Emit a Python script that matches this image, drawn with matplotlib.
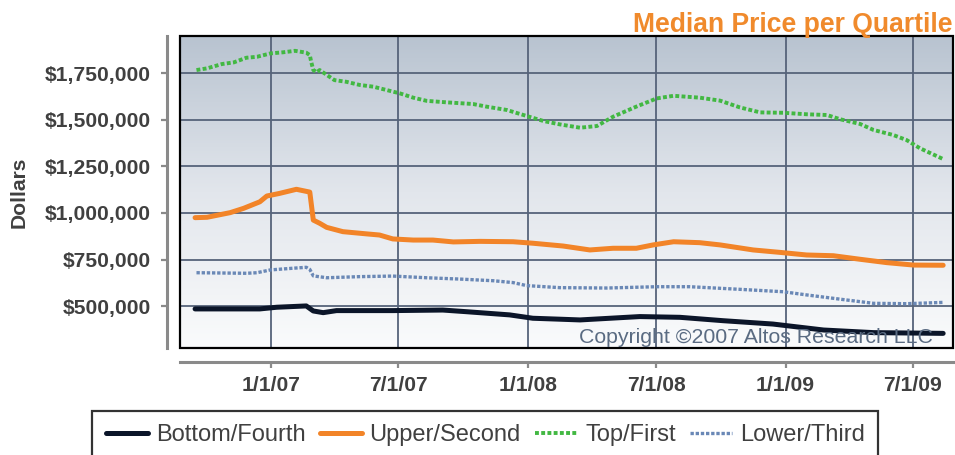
import numpy as np
import pandas as pd
import matplotlib
matplotlib.use("Agg")
import matplotlib.pyplot as plt
from matplotlib.colors import LinearSegmentedColormap
from matplotlib.patches import Rectangle

plt.rcParams['font.family'] = ['Liberation Sans', 'DejaVu Sans']

# ---- data (values in thousands of dollars) ----
top_dates = ["2006-09-17", "2006-10-02", "2006-10-23", "2006-11-09", "2006-11-27", "2006-12-12",
             "2006-12-31", "2007-01-18", "2007-02-04", "2007-02-20", "2007-02-25", "2007-02-27",
             "2007-03-02", "2007-03-07", "2007-03-11", "2007-03-25", "2007-04-01", "2007-04-18",
             "2007-05-07", "2007-05-26", "2007-06-14", "2007-07-03", "2007-07-22", "2007-08-10",
             "2007-09-07", "2007-10-15", "2007-11-03", "2007-12-02", "2007-12-30", "2008-01-23",
             "2008-02-15", "2008-03-15", "2008-04-08", "2008-05-01", "2008-06-03", "2008-07-02",
             "2008-07-26", "2008-09-01", "2008-09-30", "2008-10-28", "2008-11-26", "2008-12-29",
             "2009-01-31", "2009-03-01", "2009-03-20", "2009-04-17", "2009-05-06", "2009-06-03",
             "2009-06-22", "2009-07-11", "2009-08-13"]
top_values = [1766, 1775, 1798, 1807, 1832, 1837, 1855, 1861, 1869, 1859, 1846, 1810,
              1766, 1754, 1766, 1730, 1712, 1703, 1686, 1677, 1659, 1641, 1618, 1601,
              1593, 1584, 1570, 1552, 1520, 1493, 1475, 1457, 1466, 1516, 1570, 1614,
              1628, 1618, 1602, 1566, 1539, 1537, 1529, 1525, 1502, 1477, 1445, 1418,
              1391, 1347, 1289]

upper_dates = ["2006-09-15", "2006-10-02", "2006-11-04", "2006-11-23", "2006-12-16", "2006-12-26",
               "2007-01-13", "2007-02-06", "2007-02-25", "2007-03-02", "2007-03-11", "2007-03-21",
               "2007-04-13", "2007-05-17", "2007-06-04", "2007-06-23", "2007-07-22", "2007-08-19",
               "2007-09-17", "2007-10-25", "2007-12-11", "2008-01-08", "2008-02-20", "2008-03-29",
               "2008-05-01", "2008-06-03", "2008-06-27", "2008-07-26", "2008-09-01", "2008-09-30",
               "2008-11-16", "2008-12-24", "2009-01-31", "2009-03-10", "2009-04-17", "2009-05-25",
               "2009-07-02", "2009-08-13"]
upper_values = [975, 977, 1002, 1025, 1060, 1091, 1105, 1127, 1112, 962, 945, 923,
                900, 888, 882, 861, 855, 855, 845, 848, 846, 838, 823, 802,
                811, 811, 829, 846, 841, 829, 802, 789, 775, 771, 752, 734,
                721, 720]

lower_dates = ["2006-09-17", "2006-11-27", "2006-12-12", "2006-12-31", "2007-02-01", "2007-02-20",
               "2007-02-25", "2007-03-02", "2007-03-21", "2007-05-07", "2007-06-23", "2007-08-10",
               "2007-09-26", "2007-11-13", "2007-12-11", "2007-12-30", "2008-02-15", "2008-04-22",
               "2008-07-02", "2008-08-18", "2008-10-28", "2008-12-29", "2009-01-31", "2009-03-20",
               "2009-05-06", "2009-06-22", "2009-08-13"]
lower_values = [680, 677, 680, 695, 704, 709, 698, 663, 653, 659, 662, 653,
                646, 637, 627, 611, 600, 598, 605, 605, 591, 578, 561, 538,
                516, 514, 521]

bottom_dates = ["2006-09-15", "2006-12-16", "2007-01-09", "2007-02-20", "2007-03-02", "2007-03-16",
                "2007-04-04", "2007-06-23", "2007-09-02", "2007-10-06", "2007-12-06", "2008-01-08",
                "2008-02-15", "2008-03-15", "2008-06-08", "2008-08-04", "2008-10-04", "2008-12-14",
                "2009-02-24", "2009-05-06", "2009-08-13"]
bottom_values = [486, 486, 495, 502, 475, 466, 477, 477, 480, 471, 454, 436,
                 431, 427, 445, 441, 423, 405, 373, 359, 355]

series_names = ["Bottom/Fourth", "Upper/Second", "Top/First", "Lower/Third"]
y_ticks = [500000, 750000, 1000000, 1250000, 1500000, 1750000]
y_tick_labels = ["$500,000", "$750,000", "$1,000,000", "$1,250,000", "$1,500,000", "$1,750,000"]
x_ticks = ["2007-01-01", "2007-07-01", "2008-01-01", "2008-07-01", "2009-01-01", "2009-07-01"]
x_tick_labels = ["1/1/07", "7/1/07", "1/1/08", "7/1/08", "1/1/09", "7/1/09"]

# ---- figure ----
W, H = 955, 455
fig = plt.figure(figsize=(W / 100, H / 100), dpi=100)
ax = fig.add_axes([180.3 / W, 1 - 348.3 / H, (953 - 180.3) / W, (348.3 - 35.7) / H])

# gradient background
cmap = LinearSegmentedColormap.from_list("bg", ["#fafbfc", "#e2e6ec", "#b8c3d0"])
grad = np.linspace(0, 1, 256)[:, None]
ax.imshow(grad, extent=[0, 1, 0, 1], transform=ax.transAxes, aspect='auto',
          cmap=cmap, origin='lower', zorder=0, interpolation='bicubic')

def d(lst):
    return pd.to_datetime(lst)

ax.plot(d(bottom_dates), np.array(bottom_values) * 1000, color="#0b1529", lw=3.6,
        solid_capstyle='round', solid_joinstyle='round', label=series_names[0], zorder=5)
ax.plot(d(upper_dates), np.array(upper_values) * 1000, color="#f28428", lw=3.6,
        solid_capstyle='round', solid_joinstyle='round', label=series_names[1], zorder=5)
ax.plot(d(top_dates), np.array(top_values) * 1000, color="#42b842", lw=2.8,
        dashes=(1.0, 0.6), label=series_names[2], zorder=5)
ax.plot(d(lower_dates), np.array(lower_values) * 1000, color="#6a88b6", lw=2.4,
        dashes=(1.0, 0.55), label=series_names[3], zorder=5)

ax.set_xlim(pd.Timestamp("2006-08-25"), pd.Timestamp("2009-08-27"))
ax.set_ylim(275000, 1950000)

ax.set_yticks(y_ticks)
ax.set_yticklabels(y_tick_labels)
ax.set_xticks(d(x_ticks))
ax.set_xticklabels(x_tick_labels)

ax.grid(True, color="#56637a", lw=1.3, zorder=1)
ax.set_axisbelow(True)

for side in ["top", "right"]:
    ax.spines[side].set_visible(False)
ax.spines["left"].set_position(("outward", 9.5))
ax.spines["bottom"].set_position(("outward", 9.8))
for side in ["left", "bottom"]:
    ax.spines[side].set_color("#8a8a8a")
    ax.spines[side].set_linewidth(2.2)

ax.tick_params(axis='both', colors="#8a8a8a", width=1.6, length=4.5, direction='out')
ax.tick_params(axis='y', pad=7, labelcolor="#404040", labelsize=15.2)
ax.tick_params(axis='x', pad=5.5, labelcolor="#404040", labelsize=15.2)
for lab in ax.get_xticklabels() + ax.get_yticklabels():
    lab.set_fontweight('bold')

# black frame around plot area
ax.add_patch(Rectangle((0, 0), 1, 1, transform=ax.transAxes, fill=False,
                       edgecolor="black", lw=1.6, zorder=6, clip_on=False))

# texts
fig.text(952 / W, 1 - 32.3 / H, "Median Price per Quartile", ha='right', va='baseline',
         color="#f08a2c", fontsize=19.1, fontweight='bold')
fig.text(19 / W, 1 - 192 / H, "Dollars", rotation=90, ha='center', va='center',
         color="#404040", fontsize=15.2, fontweight='bold')
ax.text(1 - (953 - 933) / (953 - 180.3), (348.3 - 342.7) / (348.3 - 35.7),
        "Copyright \u00a92007 Altos Research LLC", transform=ax.transAxes,
        ha='right', va='baseline', color="#5a6b82", fontsize=15.3, zorder=7)

leg = fig.legend(loc='upper left', bbox_to_anchor=(92 / W, 1 - 410.5 / H), ncol=4,
                 frameon=True, fancybox=False, edgecolor='black', fontsize=17,
                 handlelength=1.78, handletextpad=0.34, columnspacing=0.6,
                 borderpad=0.58, borderaxespad=0)
leg.get_frame().set_linewidth(1.6)
for t in leg.get_texts():
    t.set_color("#404040")

fig.savefig("out.png", dpi=100)
